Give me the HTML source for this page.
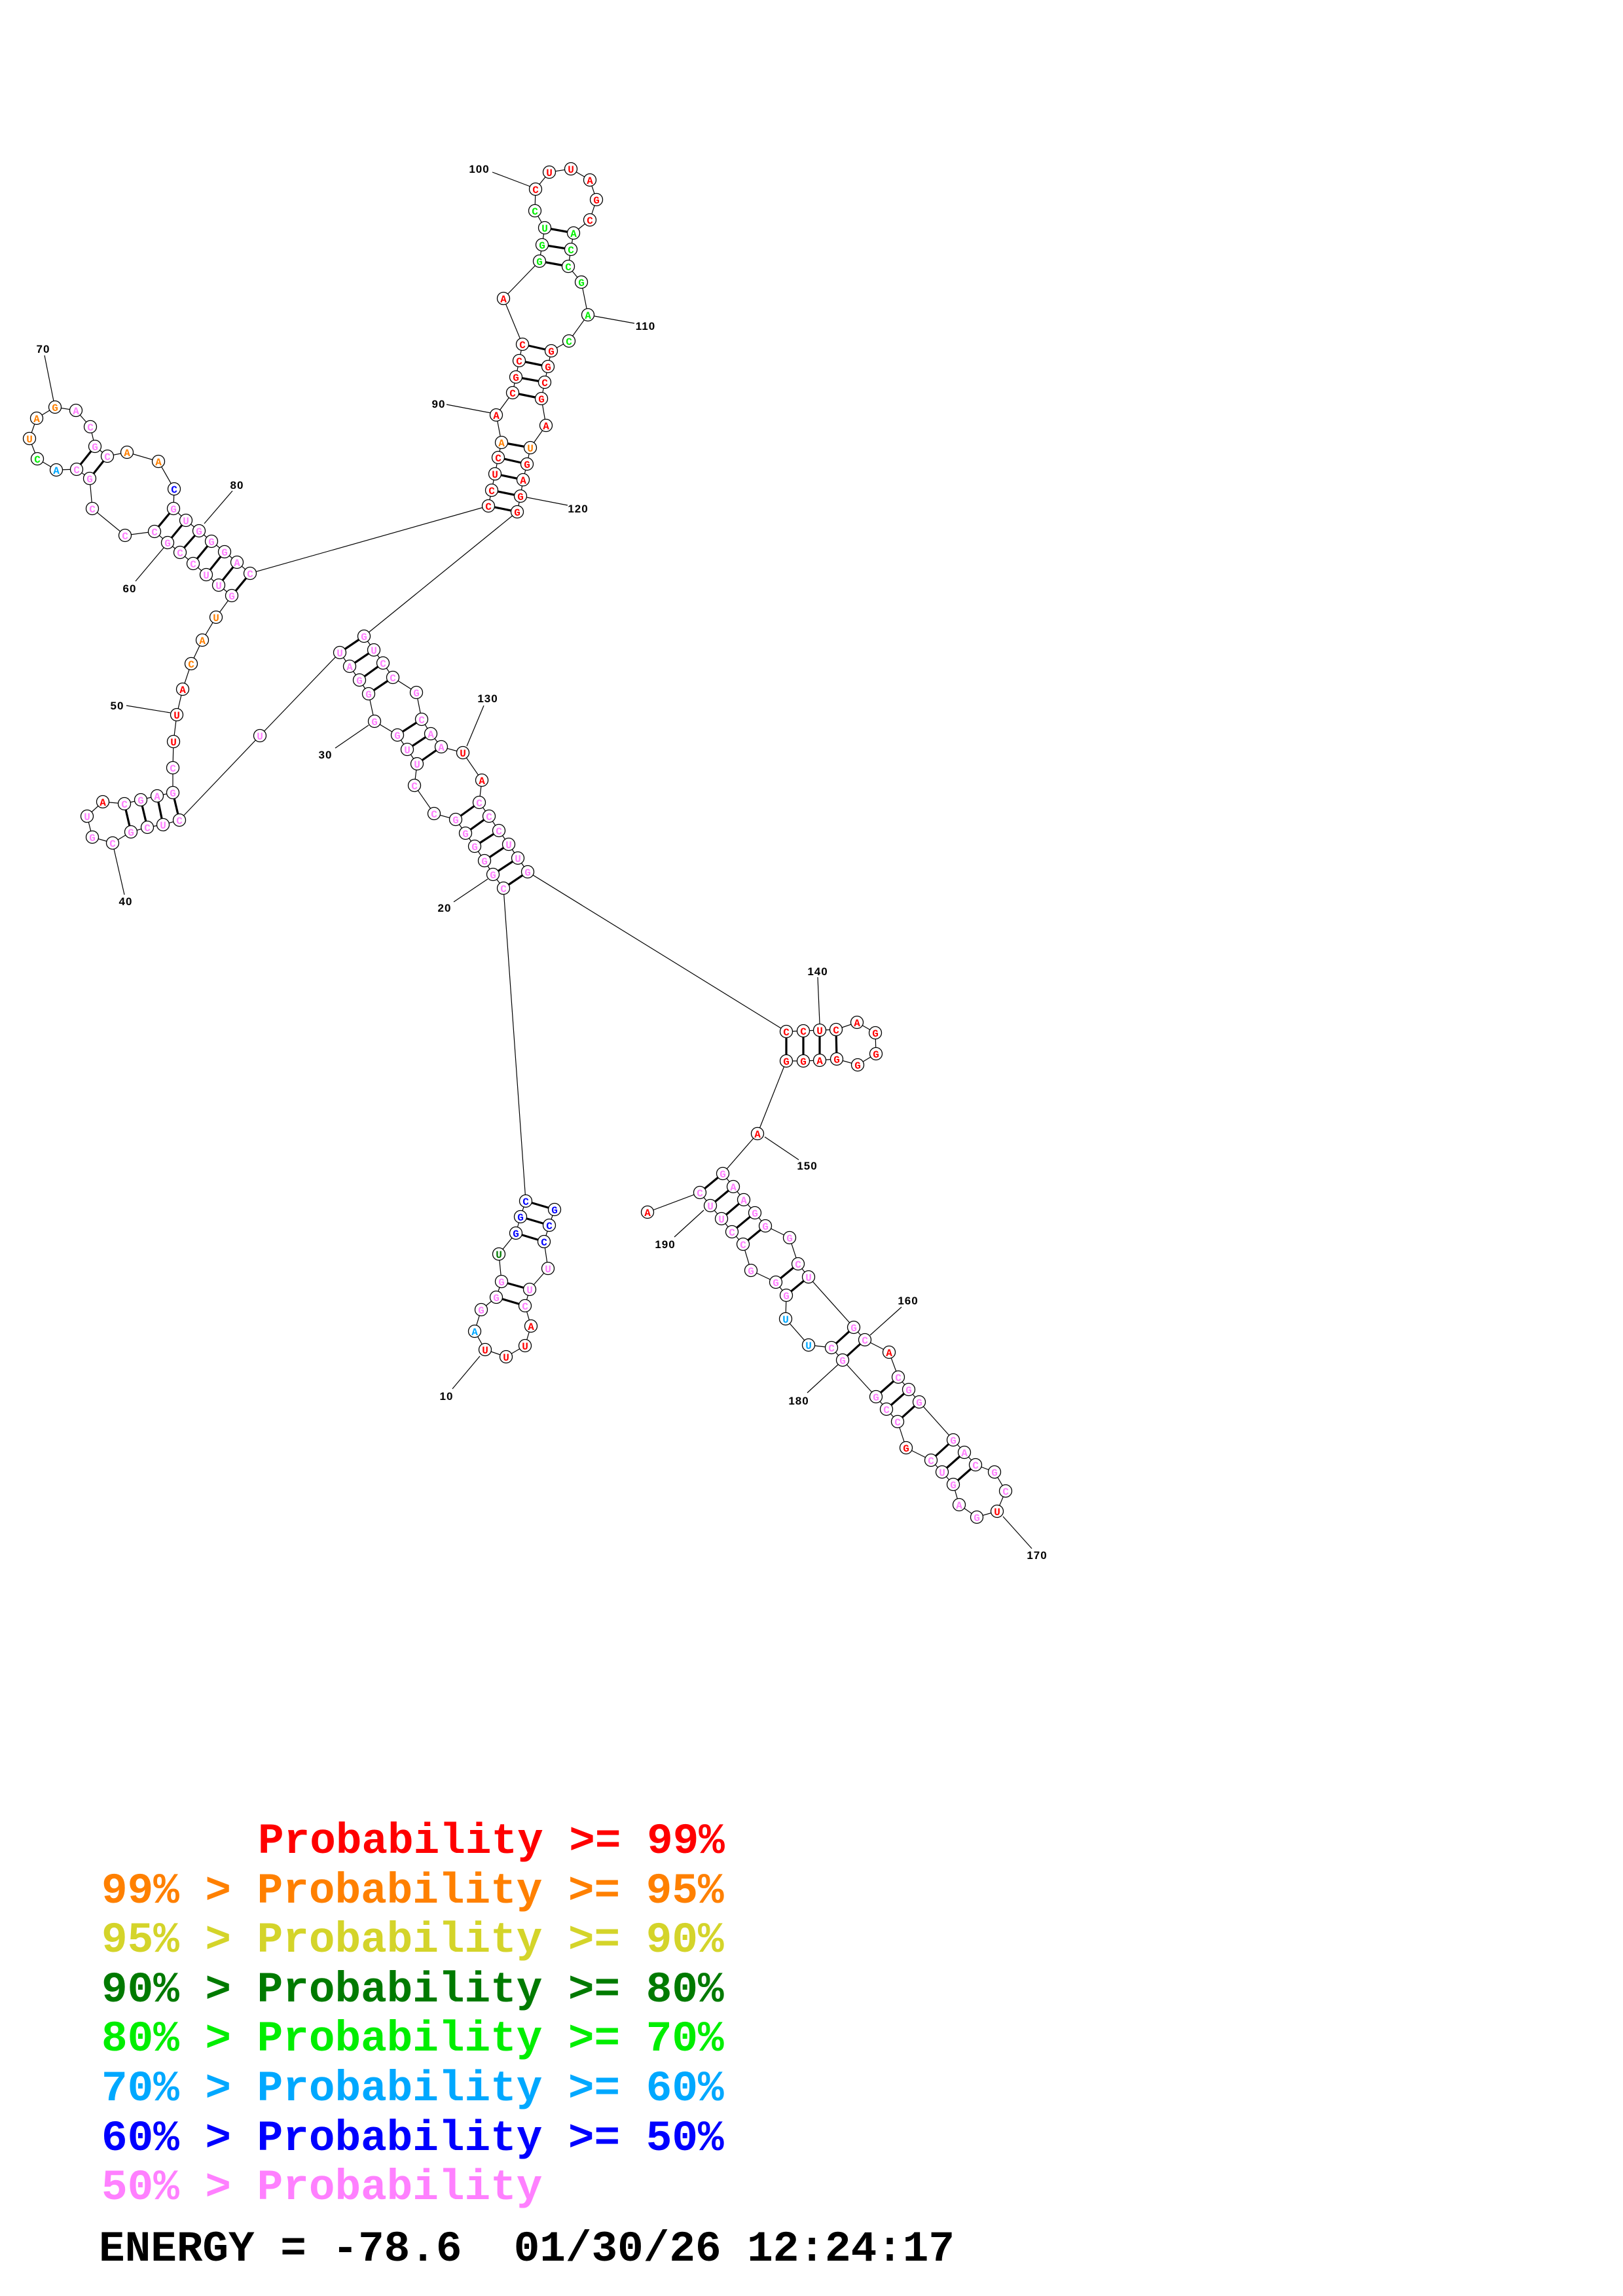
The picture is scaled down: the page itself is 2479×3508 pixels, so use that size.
<!DOCTYPE html>
<html><head><meta charset="utf-8"><style>
html,body{margin:0;padding:0;background:#fff}
svg{display:block}
.n circle{fill:#fff;stroke:#000;stroke-width:1.3}
.n text{font-family:"Liberation Mono",monospace;font-weight:bold;font-size:16px;text-anchor:middle}
.p{stroke:#000;stroke-width:3.2}
.l{stroke:#000;stroke-width:1.2}
.lab{font-family:"Liberation Sans",sans-serif;font-weight:bold;font-size:17px;text-anchor:middle;letter-spacing:1px}
.lg{font-family:"Liberation Mono",monospace;font-weight:bold;font-size:66px}
.r{fill:#ff0000}.o{fill:#ff8000}.y{fill:#d4d42a}.d{fill:#007a00}.g{fill:#00ee00}.b{fill:#00a8ff}.B{fill:#0000ff}.k{fill:#ff80ff}
</style></head><body>
<svg width="2479" height="3508" viewBox="0 0 2479 3508" xmlns="http://www.w3.org/2000/svg">
<polyline fill="none" stroke="#000" stroke-width="1.2" points="847,1848 839,1872 831,1897 837,1938 809,1970 802,1995 811,2026 802,2056 773,2073 741,2062 725,2034 735,2001 758,1982 766,1958 762,1916 788,1884 795,1859 803,1835 769,1357 753,1336 740,1315 725,1293 711,1273 696,1252 663,1243 633,1200 637,1167 622,1145 607,1123 572,1102 563,1060 549,1039 534,1018 519,997 397,1124 274,1253 249,1260 225,1264 200,1271 172,1288 141,1279 133,1247 157,1225 190,1228 215,1222 240,1216 264,1211 264,1173 265,1133 270,1092 279,1053 292,1014 309,978 330,943 354,910 334,894 315,878 295,861 275,844 256,829 236,812 191,818 141,777 137,731 117,717 86,718 57,701 45,670 56,639 84,622 116,627 138,652 145,682 164,697 194,691 242,705 266,747 265,777 284,795 304,811 323,827 343,843 362,859 382,876 746,773 751,749 756,724 761,699 766,676 758,634 783,600 788,576 793,551 798,526 769,456 824,399 828,374 832,348 817,322 818,289 839,263 872,258 901,275 911,305 901,336 876,356 872,381 868,407 888,431 898,481 869,521 842,536 837,560 832,584 827,609 834,650 810,684 805,709 799,733 795,758 790,782 556,972 571,993 585,1013 600,1035 636,1058 644,1099 658,1121 674,1141 707,1150 736,1192 732,1226 747,1247 762,1269 777,1290 791,1311 806,1332 1201,1576 1227,1575 1252,1574 1277,1573 1309,1562 1337,1578 1338,1610 1310,1627 1278,1618 1252,1620 1227,1621 1201,1621 1157,1732 1104,1793 1120,1813 1136,1833 1153,1853 1169,1873 1206,1891 1219,1931 1235,1951 1304,2028 1321,2047 1358,2066 1372,2104 1388,2123 1404,2142 1456,2200 1473,2219 1490,2238 1519,2249 1536,2278 1523,2309 1492,2318 1465,2299 1456,2268 1439,2249 1422,2231 1384,2212 1371,2172 1354,2153 1338,2134 1287,2078 1270,2059 1235,2055 1200,2015 1201,1979 1185,1959 1147,1941 1135,1901 1118,1882 1102,1862 1085,1842 1069,1822 989,1852"/>
<g class="p">
<line x1="803" y1="1835" x2="847" y2="1848"/><line x1="795" y1="1859" x2="839" y2="1872"/><line x1="788" y1="1884" x2="831" y2="1897"/><line x1="766" y1="1958" x2="809" y2="1970"/><line x1="758" y1="1982" x2="802" y2="1995"/>
<line x1="769" y1="1357" x2="806" y2="1332"/><line x1="753" y1="1336" x2="791" y2="1311"/><line x1="740" y1="1315" x2="777" y2="1290"/><line x1="725" y1="1293" x2="762" y2="1269"/><line x1="711" y1="1273" x2="747" y2="1247"/><line x1="696" y1="1252" x2="732" y2="1226"/>
<line x1="607" y1="1123" x2="644" y2="1099"/><line x1="622" y1="1145" x2="658" y2="1121"/><line x1="637" y1="1167" x2="674" y2="1141"/>
<line x1="519" y1="997" x2="556" y2="972"/><line x1="534" y1="1018" x2="571" y2="993"/><line x1="549" y1="1039" x2="585" y2="1013"/><line x1="563" y1="1060" x2="600" y2="1035"/>
<line x1="264" y1="1211" x2="274" y2="1253"/><line x1="240" y1="1216" x2="249" y2="1260"/><line x1="215" y1="1222" x2="225" y2="1264"/><line x1="190" y1="1228" x2="200" y2="1271"/>
<line x1="354" y1="910" x2="382" y2="876"/><line x1="334" y1="894" x2="362" y2="859"/><line x1="315" y1="878" x2="343" y2="843"/><line x1="295" y1="861" x2="323" y2="827"/><line x1="275" y1="844" x2="304" y2="811"/><line x1="256" y1="829" x2="284" y2="795"/><line x1="236" y1="812" x2="265" y2="777"/><line x1="137" y1="731" x2="164" y2="697"/><line x1="117" y1="717" x2="145" y2="682"/>
<line x1="746" y1="773" x2="790" y2="782"/><line x1="751" y1="749" x2="795" y2="758"/><line x1="756" y1="724" x2="799" y2="733"/><line x1="761" y1="699" x2="805" y2="709"/><line x1="766" y1="676" x2="810" y2="684"/>
<line x1="783" y1="600" x2="827" y2="609"/><line x1="788" y1="576" x2="832" y2="584"/><line x1="793" y1="551" x2="837" y2="560"/><line x1="798" y1="526" x2="842" y2="536"/>
<line x1="824" y1="399" x2="868" y2="407"/><line x1="828" y1="374" x2="872" y2="381"/><line x1="832" y1="348" x2="876" y2="356"/>
<line x1="1201" y1="1576" x2="1201" y2="1621"/><line x1="1227" y1="1575" x2="1227" y2="1621"/><line x1="1252" y1="1574" x2="1252" y2="1620"/><line x1="1277" y1="1573" x2="1278" y2="1618"/>
<line x1="1104" y1="1793" x2="1069" y2="1822"/><line x1="1120" y1="1813" x2="1085" y2="1842"/><line x1="1136" y1="1833" x2="1102" y2="1862"/><line x1="1153" y1="1853" x2="1118" y2="1882"/><line x1="1169" y1="1873" x2="1135" y2="1901"/>
<line x1="1219" y1="1931" x2="1185" y2="1959"/><line x1="1235" y1="1951" x2="1201" y2="1979"/><line x1="1304" y1="2028" x2="1270" y2="2059"/><line x1="1321" y1="2047" x2="1287" y2="2078"/>
<line x1="1372" y1="2104" x2="1338" y2="2134"/><line x1="1388" y1="2123" x2="1354" y2="2153"/><line x1="1404" y1="2142" x2="1371" y2="2172"/>
<line x1="1456" y1="2200" x2="1422" y2="2231"/><line x1="1473" y1="2219" x2="1439" y2="2249"/><line x1="1490" y1="2238" x2="1456" y2="2268"/>
</g>
<g class="l">
<line x1="691" y1="2122" x2="733" y2="2072"/><line x1="693" y1="1378" x2="745" y2="1343"/><line x1="512" y1="1143" x2="563" y2="1108"/><line x1="174" y1="1297" x2="190" y2="1367"/><line x1="193" y1="1078" x2="260" y2="1089"/><line x1="207" y1="888" x2="250" y2="837"/><line x1="68" y1="543" x2="82" y2="613"/><line x1="355" y1="750" x2="312" y2="800"/><line x1="682" y1="618" x2="750" y2="631"/><line x1="752" y1="263" x2="810" y2="285"/><line x1="908" y1="483" x2="969" y2="494"/><line x1="805" y1="760" x2="867" y2="772"/><line x1="739" y1="1078" x2="713" y2="1140"/><line x1="1249" y1="1493" x2="1252" y2="1564"/><line x1="1168" y1="1737" x2="1220" y2="1772"/><line x1="1377" y1="1997" x2="1329" y2="2040"/><line x1="1532" y1="2317" x2="1576" y2="2366"/><line x1="1233" y1="2128" x2="1280" y2="2085"/><line x1="1030" y1="1890" x2="1075" y2="1849"/>
</g>
<g class="lab">
<text x="682" y="2139">10</text><text x="679" y="1393">20</text><text x="497" y="1159">30</text><text x="192" y="1383">40</text><text x="179" y="1084">50</text><text x="198" y="905">60</text><text x="66" y="539">70</text><text x="362" y="747">80</text><text x="670" y="623">90</text><text x="732" y="264">100</text><text x="986" y="504">110</text><text x="883" y="783">120</text><text x="745" y="1073">130</text><text x="1249" y="1490">140</text><text x="1233" y="1787">150</text><text x="1387" y="1993">160</text><text x="1584" y="2382">170</text><text x="1220" y="2146">180</text><text x="1016" y="1907">190</text>
</g>
<g class="n">
<circle cx="847" cy="1848" r="9.5"/><text class="B" x="847" y="1854">G</text>
<circle cx="839" cy="1872" r="9.5"/><text class="B" x="839" y="1878">C</text>
<circle cx="831" cy="1897" r="9.5"/><text class="B" x="831" y="1903">C</text>
<circle cx="837" cy="1938" r="9.5"/><text class="k" x="837" y="1944">U</text>
<circle cx="809" cy="1970" r="9.5"/><text class="k" x="809" y="1976">U</text>
<circle cx="802" cy="1995" r="9.5"/><text class="k" x="802" y="2001">C</text>
<circle cx="811" cy="2026" r="9.5"/><text class="r" x="811" y="2032">A</text>
<circle cx="802" cy="2056" r="9.5"/><text class="r" x="802" y="2062">U</text>
<circle cx="773" cy="2073" r="9.5"/><text class="r" x="773" y="2079">U</text>
<circle cx="741" cy="2062" r="9.5"/><text class="r" x="741" y="2068">U</text>
<circle cx="725" cy="2034" r="9.5"/><text class="b" x="725" y="2040">A</text>
<circle cx="735" cy="2001" r="9.5"/><text class="k" x="735" y="2007">G</text>
<circle cx="758" cy="1982" r="9.5"/><text class="k" x="758" y="1988">G</text>
<circle cx="766" cy="1958" r="9.5"/><text class="k" x="766" y="1964">G</text>
<circle cx="762" cy="1916" r="9.5"/><text class="d" x="762" y="1922">U</text>
<circle cx="788" cy="1884" r="9.5"/><text class="B" x="788" y="1890">G</text>
<circle cx="795" cy="1859" r="9.5"/><text class="B" x="795" y="1865">G</text>
<circle cx="803" cy="1835" r="9.5"/><text class="B" x="803" y="1841">C</text>
<circle cx="769" cy="1357" r="9.5"/><text class="k" x="769" y="1363">C</text>
<circle cx="753" cy="1336" r="9.5"/><text class="k" x="753" y="1342">G</text>
<circle cx="740" cy="1315" r="9.5"/><text class="k" x="740" y="1321">G</text>
<circle cx="725" cy="1293" r="9.5"/><text class="k" x="725" y="1299">G</text>
<circle cx="711" cy="1273" r="9.5"/><text class="k" x="711" y="1279">G</text>
<circle cx="696" cy="1252" r="9.5"/><text class="k" x="696" y="1258">G</text>
<circle cx="663" cy="1243" r="9.5"/><text class="k" x="663" y="1249">C</text>
<circle cx="633" cy="1200" r="9.5"/><text class="k" x="633" y="1206">C</text>
<circle cx="637" cy="1167" r="9.5"/><text class="k" x="637" y="1173">U</text>
<circle cx="622" cy="1145" r="9.5"/><text class="k" x="622" y="1151">U</text>
<circle cx="607" cy="1123" r="9.5"/><text class="k" x="607" y="1129">G</text>
<circle cx="572" cy="1102" r="9.5"/><text class="k" x="572" y="1108">G</text>
<circle cx="563" cy="1060" r="9.5"/><text class="k" x="563" y="1066">G</text>
<circle cx="549" cy="1039" r="9.5"/><text class="k" x="549" y="1045">G</text>
<circle cx="534" cy="1018" r="9.5"/><text class="k" x="534" y="1024">A</text>
<circle cx="519" cy="997" r="9.5"/><text class="k" x="519" y="1003">U</text>
<circle cx="397" cy="1124" r="9.5"/><text class="k" x="397" y="1130">U</text>
<circle cx="274" cy="1253" r="9.5"/><text class="k" x="274" y="1259">C</text>
<circle cx="249" cy="1260" r="9.5"/><text class="k" x="249" y="1266">U</text>
<circle cx="225" cy="1264" r="9.5"/><text class="k" x="225" y="1270">C</text>
<circle cx="200" cy="1271" r="9.5"/><text class="k" x="200" y="1277">G</text>
<circle cx="172" cy="1288" r="9.5"/><text class="k" x="172" y="1294">C</text>
<circle cx="141" cy="1279" r="9.5"/><text class="k" x="141" y="1285">G</text>
<circle cx="133" cy="1247" r="9.5"/><text class="k" x="133" y="1253">U</text>
<circle cx="157" cy="1225" r="9.5"/><text class="r" x="157" y="1231">A</text>
<circle cx="190" cy="1228" r="9.5"/><text class="k" x="190" y="1234">C</text>
<circle cx="215" cy="1222" r="9.5"/><text class="k" x="215" y="1228">G</text>
<circle cx="240" cy="1216" r="9.5"/><text class="k" x="240" y="1222">A</text>
<circle cx="264" cy="1211" r="9.5"/><text class="k" x="264" y="1217">G</text>
<circle cx="264" cy="1173" r="9.5"/><text class="k" x="264" y="1179">C</text>
<circle cx="265" cy="1133" r="9.5"/><text class="r" x="265" y="1139">U</text>
<circle cx="270" cy="1092" r="9.5"/><text class="r" x="270" y="1098">U</text>
<circle cx="279" cy="1053" r="9.5"/><text class="r" x="279" y="1059">A</text>
<circle cx="292" cy="1014" r="9.5"/><text class="o" x="292" y="1020">C</text>
<circle cx="309" cy="978" r="9.5"/><text class="o" x="309" y="984">A</text>
<circle cx="330" cy="943" r="9.5"/><text class="o" x="330" y="949">U</text>
<circle cx="354" cy="910" r="9.5"/><text class="k" x="354" y="916">G</text>
<circle cx="334" cy="894" r="9.5"/><text class="k" x="334" y="900">U</text>
<circle cx="315" cy="878" r="9.5"/><text class="k" x="315" y="884">U</text>
<circle cx="295" cy="861" r="9.5"/><text class="k" x="295" y="867">C</text>
<circle cx="275" cy="844" r="9.5"/><text class="k" x="275" y="850">C</text>
<circle cx="256" cy="829" r="9.5"/><text class="k" x="256" y="835">G</text>
<circle cx="236" cy="812" r="9.5"/><text class="k" x="236" y="818">C</text>
<circle cx="191" cy="818" r="9.5"/><text class="k" x="191" y="824">C</text>
<circle cx="141" cy="777" r="9.5"/><text class="k" x="141" y="783">C</text>
<circle cx="137" cy="731" r="9.5"/><text class="k" x="137" y="737">G</text>
<circle cx="117" cy="717" r="9.5"/><text class="k" x="117" y="723">C</text>
<circle cx="86" cy="718" r="9.5"/><text class="b" x="86" y="724">A</text>
<circle cx="57" cy="701" r="9.5"/><text class="g" x="57" y="707">C</text>
<circle cx="45" cy="670" r="9.5"/><text class="o" x="45" y="676">U</text>
<circle cx="56" cy="639" r="9.5"/><text class="o" x="56" y="645">A</text>
<circle cx="84" cy="622" r="9.5"/><text class="o" x="84" y="628">G</text>
<circle cx="116" cy="627" r="9.5"/><text class="k" x="116" y="633">A</text>
<circle cx="138" cy="652" r="9.5"/><text class="k" x="138" y="658">C</text>
<circle cx="145" cy="682" r="9.5"/><text class="k" x="145" y="688">G</text>
<circle cx="164" cy="697" r="9.5"/><text class="k" x="164" y="703">C</text>
<circle cx="194" cy="691" r="9.5"/><text class="o" x="194" y="697">A</text>
<circle cx="242" cy="705" r="9.5"/><text class="o" x="242" y="711">A</text>
<circle cx="266" cy="747" r="9.5"/><text class="B" x="266" y="753">C</text>
<circle cx="265" cy="777" r="9.5"/><text class="k" x="265" y="783">G</text>
<circle cx="284" cy="795" r="9.5"/><text class="k" x="284" y="801">U</text>
<circle cx="304" cy="811" r="9.5"/><text class="k" x="304" y="817">G</text>
<circle cx="323" cy="827" r="9.5"/><text class="k" x="323" y="833">G</text>
<circle cx="343" cy="843" r="9.5"/><text class="k" x="343" y="849">G</text>
<circle cx="362" cy="859" r="9.5"/><text class="k" x="362" y="865">A</text>
<circle cx="382" cy="876" r="9.5"/><text class="k" x="382" y="882">C</text>
<circle cx="746" cy="773" r="9.5"/><text class="r" x="746" y="779">C</text>
<circle cx="751" cy="749" r="9.5"/><text class="r" x="751" y="755">C</text>
<circle cx="756" cy="724" r="9.5"/><text class="r" x="756" y="730">U</text>
<circle cx="761" cy="699" r="9.5"/><text class="r" x="761" y="705">C</text>
<circle cx="766" cy="676" r="9.5"/><text class="o" x="766" y="682">A</text>
<circle cx="758" cy="634" r="9.5"/><text class="r" x="758" y="640">A</text>
<circle cx="783" cy="600" r="9.5"/><text class="r" x="783" y="606">C</text>
<circle cx="788" cy="576" r="9.5"/><text class="r" x="788" y="582">G</text>
<circle cx="793" cy="551" r="9.5"/><text class="r" x="793" y="557">C</text>
<circle cx="798" cy="526" r="9.5"/><text class="r" x="798" y="532">C</text>
<circle cx="769" cy="456" r="9.5"/><text class="r" x="769" y="462">A</text>
<circle cx="824" cy="399" r="9.5"/><text class="g" x="824" y="405">G</text>
<circle cx="828" cy="374" r="9.5"/><text class="g" x="828" y="380">G</text>
<circle cx="832" cy="348" r="9.5"/><text class="g" x="832" y="354">U</text>
<circle cx="817" cy="322" r="9.5"/><text class="g" x="817" y="328">C</text>
<circle cx="818" cy="289" r="9.5"/><text class="r" x="818" y="295">C</text>
<circle cx="839" cy="263" r="9.5"/><text class="r" x="839" y="269">U</text>
<circle cx="872" cy="258" r="9.5"/><text class="r" x="872" y="264">U</text>
<circle cx="901" cy="275" r="9.5"/><text class="r" x="901" y="281">A</text>
<circle cx="911" cy="305" r="9.5"/><text class="r" x="911" y="311">G</text>
<circle cx="901" cy="336" r="9.5"/><text class="r" x="901" y="342">C</text>
<circle cx="876" cy="356" r="9.5"/><text class="g" x="876" y="362">A</text>
<circle cx="872" cy="381" r="9.5"/><text class="g" x="872" y="387">C</text>
<circle cx="868" cy="407" r="9.5"/><text class="g" x="868" y="413">C</text>
<circle cx="888" cy="431" r="9.5"/><text class="g" x="888" y="437">G</text>
<circle cx="898" cy="481" r="9.5"/><text class="g" x="898" y="487">A</text>
<circle cx="869" cy="521" r="9.5"/><text class="g" x="869" y="527">C</text>
<circle cx="842" cy="536" r="9.5"/><text class="r" x="842" y="542">G</text>
<circle cx="837" cy="560" r="9.5"/><text class="r" x="837" y="566">G</text>
<circle cx="832" cy="584" r="9.5"/><text class="r" x="832" y="590">C</text>
<circle cx="827" cy="609" r="9.5"/><text class="r" x="827" y="615">G</text>
<circle cx="834" cy="650" r="9.5"/><text class="r" x="834" y="656">A</text>
<circle cx="810" cy="684" r="9.5"/><text class="o" x="810" y="690">U</text>
<circle cx="805" cy="709" r="9.5"/><text class="r" x="805" y="715">G</text>
<circle cx="799" cy="733" r="9.5"/><text class="r" x="799" y="739">A</text>
<circle cx="795" cy="758" r="9.5"/><text class="r" x="795" y="764">G</text>
<circle cx="790" cy="782" r="9.5"/><text class="r" x="790" y="788">G</text>
<circle cx="556" cy="972" r="9.5"/><text class="k" x="556" y="978">G</text>
<circle cx="571" cy="993" r="9.5"/><text class="k" x="571" y="999">U</text>
<circle cx="585" cy="1013" r="9.5"/><text class="k" x="585" y="1019">C</text>
<circle cx="600" cy="1035" r="9.5"/><text class="k" x="600" y="1041">C</text>
<circle cx="636" cy="1058" r="9.5"/><text class="k" x="636" y="1064">G</text>
<circle cx="644" cy="1099" r="9.5"/><text class="k" x="644" y="1105">C</text>
<circle cx="658" cy="1121" r="9.5"/><text class="k" x="658" y="1127">A</text>
<circle cx="674" cy="1141" r="9.5"/><text class="k" x="674" y="1147">A</text>
<circle cx="707" cy="1150" r="9.5"/><text class="r" x="707" y="1156">U</text>
<circle cx="736" cy="1192" r="9.5"/><text class="r" x="736" y="1198">A</text>
<circle cx="732" cy="1226" r="9.5"/><text class="k" x="732" y="1232">C</text>
<circle cx="747" cy="1247" r="9.5"/><text class="k" x="747" y="1253">C</text>
<circle cx="762" cy="1269" r="9.5"/><text class="k" x="762" y="1275">C</text>
<circle cx="777" cy="1290" r="9.5"/><text class="k" x="777" y="1296">U</text>
<circle cx="791" cy="1311" r="9.5"/><text class="k" x="791" y="1317">U</text>
<circle cx="806" cy="1332" r="9.5"/><text class="k" x="806" y="1338">G</text>
<circle cx="1201" cy="1576" r="9.5"/><text class="r" x="1201" y="1582">C</text>
<circle cx="1227" cy="1575" r="9.5"/><text class="r" x="1227" y="1581">C</text>
<circle cx="1252" cy="1574" r="9.5"/><text class="r" x="1252" y="1580">U</text>
<circle cx="1277" cy="1573" r="9.5"/><text class="r" x="1277" y="1579">C</text>
<circle cx="1309" cy="1562" r="9.5"/><text class="r" x="1309" y="1568">A</text>
<circle cx="1337" cy="1578" r="9.5"/><text class="r" x="1337" y="1584">G</text>
<circle cx="1338" cy="1610" r="9.5"/><text class="r" x="1338" y="1616">G</text>
<circle cx="1310" cy="1627" r="9.5"/><text class="r" x="1310" y="1633">G</text>
<circle cx="1278" cy="1618" r="9.5"/><text class="r" x="1278" y="1624">G</text>
<circle cx="1252" cy="1620" r="9.5"/><text class="r" x="1252" y="1626">A</text>
<circle cx="1227" cy="1621" r="9.5"/><text class="r" x="1227" y="1627">G</text>
<circle cx="1201" cy="1621" r="9.5"/><text class="r" x="1201" y="1627">G</text>
<circle cx="1157" cy="1732" r="9.5"/><text class="r" x="1157" y="1738">A</text>
<circle cx="1104" cy="1793" r="9.5"/><text class="k" x="1104" y="1799">G</text>
<circle cx="1120" cy="1813" r="9.5"/><text class="k" x="1120" y="1819">A</text>
<circle cx="1136" cy="1833" r="9.5"/><text class="k" x="1136" y="1839">A</text>
<circle cx="1153" cy="1853" r="9.5"/><text class="k" x="1153" y="1859">G</text>
<circle cx="1169" cy="1873" r="9.5"/><text class="k" x="1169" y="1879">G</text>
<circle cx="1206" cy="1891" r="9.5"/><text class="k" x="1206" y="1897">G</text>
<circle cx="1219" cy="1931" r="9.5"/><text class="k" x="1219" y="1937">C</text>
<circle cx="1235" cy="1951" r="9.5"/><text class="k" x="1235" y="1957">U</text>
<circle cx="1304" cy="2028" r="9.5"/><text class="k" x="1304" y="2034">G</text>
<circle cx="1321" cy="2047" r="9.5"/><text class="k" x="1321" y="2053">C</text>
<circle cx="1358" cy="2066" r="9.5"/><text class="r" x="1358" y="2072">A</text>
<circle cx="1372" cy="2104" r="9.5"/><text class="k" x="1372" y="2110">C</text>
<circle cx="1388" cy="2123" r="9.5"/><text class="k" x="1388" y="2129">G</text>
<circle cx="1404" cy="2142" r="9.5"/><text class="k" x="1404" y="2148">G</text>
<circle cx="1456" cy="2200" r="9.5"/><text class="k" x="1456" y="2206">G</text>
<circle cx="1473" cy="2219" r="9.5"/><text class="k" x="1473" y="2225">A</text>
<circle cx="1490" cy="2238" r="9.5"/><text class="k" x="1490" y="2244">C</text>
<circle cx="1519" cy="2249" r="9.5"/><text class="k" x="1519" y="2255">G</text>
<circle cx="1536" cy="2278" r="9.5"/><text class="k" x="1536" y="2284">C</text>
<circle cx="1523" cy="2309" r="9.5"/><text class="r" x="1523" y="2315">U</text>
<circle cx="1492" cy="2318" r="9.5"/><text class="k" x="1492" y="2324">G</text>
<circle cx="1465" cy="2299" r="9.5"/><text class="k" x="1465" y="2305">A</text>
<circle cx="1456" cy="2268" r="9.5"/><text class="k" x="1456" y="2274">G</text>
<circle cx="1439" cy="2249" r="9.5"/><text class="k" x="1439" y="2255">U</text>
<circle cx="1422" cy="2231" r="9.5"/><text class="k" x="1422" y="2237">C</text>
<circle cx="1384" cy="2212" r="9.5"/><text class="r" x="1384" y="2218">G</text>
<circle cx="1371" cy="2172" r="9.5"/><text class="k" x="1371" y="2178">C</text>
<circle cx="1354" cy="2153" r="9.5"/><text class="k" x="1354" y="2159">C</text>
<circle cx="1338" cy="2134" r="9.5"/><text class="k" x="1338" y="2140">G</text>
<circle cx="1287" cy="2078" r="9.5"/><text class="k" x="1287" y="2084">G</text>
<circle cx="1270" cy="2059" r="9.5"/><text class="k" x="1270" y="2065">C</text>
<circle cx="1235" cy="2055" r="9.5"/><text class="b" x="1235" y="2061">U</text>
<circle cx="1200" cy="2015" r="9.5"/><text class="b" x="1200" y="2021">U</text>
<circle cx="1201" cy="1979" r="9.5"/><text class="k" x="1201" y="1985">G</text>
<circle cx="1185" cy="1959" r="9.5"/><text class="k" x="1185" y="1965">G</text>
<circle cx="1147" cy="1941" r="9.5"/><text class="k" x="1147" y="1947">G</text>
<circle cx="1135" cy="1901" r="9.5"/><text class="k" x="1135" y="1907">C</text>
<circle cx="1118" cy="1882" r="9.5"/><text class="k" x="1118" y="1888">C</text>
<circle cx="1102" cy="1862" r="9.5"/><text class="k" x="1102" y="1868">U</text>
<circle cx="1085" cy="1842" r="9.5"/><text class="k" x="1085" y="1848">U</text>
<circle cx="1069" cy="1822" r="9.5"/><text class="k" x="1069" y="1828">C</text>
<circle cx="989" cy="1852" r="9.5"/><text class="r" x="989" y="1858">A</text>
</g>
<g class="lg">
<text class="r" x="394" y="2831">Probability &gt;= 99%</text>
<text class="o" x="155" y="2907">99% &gt; Probability &gt;= 95%</text>
<text class="y" x="155" y="2982">95% &gt; Probability &gt;= 90%</text>
<text class="d" x="155" y="3058">90% &gt; Probability &gt;= 80%</text>
<text class="g" x="155" y="3133">80% &gt; Probability &gt;= 70%</text>
<text class="b" x="155" y="3209">70% &gt; Probability &gt;= 60%</text>
<text class="B" x="155" y="3285">60% &gt; Probability &gt;= 50%</text>
<text class="k" x="155" y="3360">50% &gt; Probability</text>
<text fill="#000" x="151" y="3454" xml:space="preserve">ENERGY = -78.6  01/30/26 12:24:17</text>
</g>
</svg>
</body></html>
